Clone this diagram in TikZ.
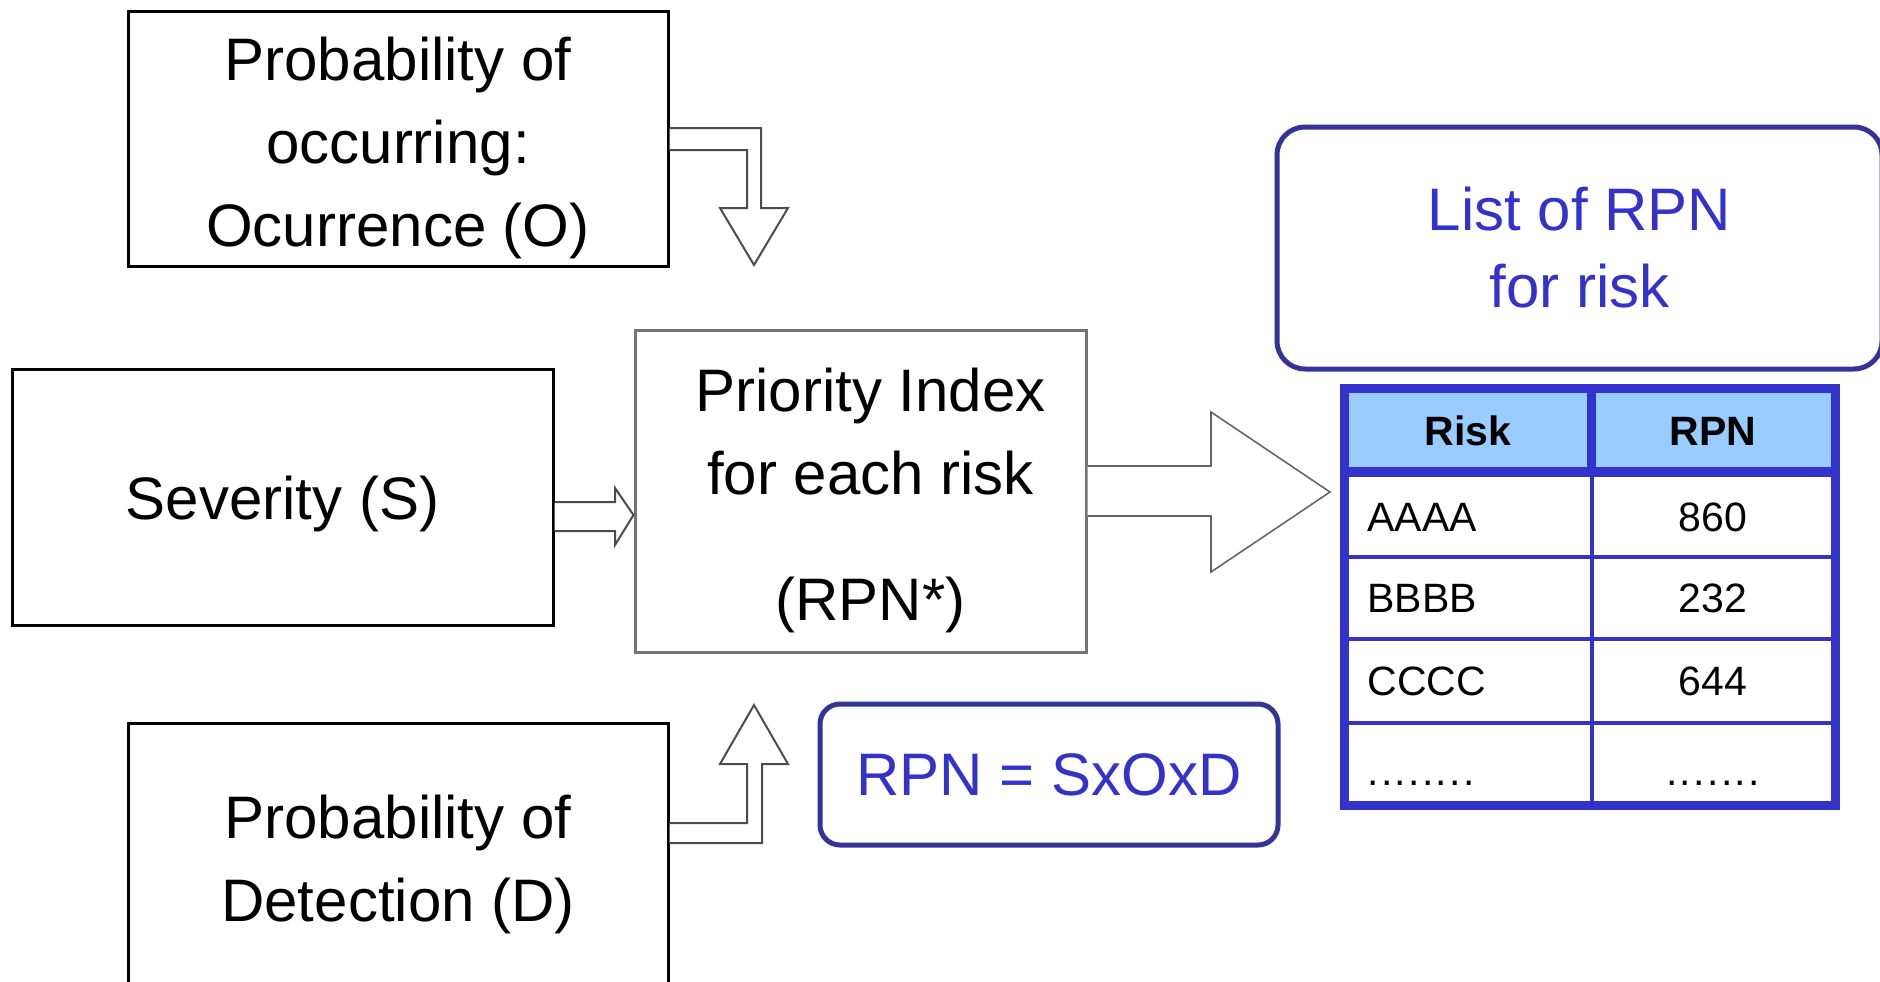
\documentclass[tikz,border=0pt]{standalone}
\usepackage{fontspec}
\setmainfont{Liberation Sans}
\usepackage{xcolor}
\definecolor{rpnazul}{RGB}{51,51,204}
\definecolor{rpnmarino}{RGB}{51,51,153}
\definecolor{rpncabecera}{RGB}{153,204,255}

\begin{document}
\begin{tikzpicture}[x=0.5pt, y=-0.5pt,
  caja/.style={draw, line width=1.5pt, inner sep=0pt},
  cajagris/.style={caja, draw=black!55},
  texto/.style={inner sep=0pt, align=center, font=\fontsize{30}{41.5}\selectfont},
  cajaredonda/.style={draw=rpnmarino, line width=2.5pt, rounded corners=14pt, inner sep=0pt, align=center, text=rpnazul, font=\fontsize{30}{38.5}\selectfont},
  flecha/.style={draw=black!70, line width=1pt, fill=white, line join=miter},
  celda/.style={inner sep=0pt, font=\fontsize{20.5}{24}\selectfont},
]
\useasboundingbox (0,0) rectangle (1880,981);
\clip (0,0) rectangle (1880,981);

% Cajas de entrada
\node[caja, minimum width=270pt, minimum height=127.5pt] (occ) at (398,138.5) {};
\node[texto, yshift=-4.5pt] (occtexto) at (occ.center) {Probability of\\occurring:\\Ocurrence (O)};
\node[caja, minimum width=270.5pt, minimum height=128pt] (sev) at (282.5,497) {};
\node[texto, yshift=-3.5pt] (sevtexto) at (sev.center) {Severity (S)};
\node[caja, minimum width=270pt, minimum height=134pt] (det) at (398,857) {};
\node[texto, yshift=-3.5pt] (dettexto) at (det.center) {Probability of\\Detection (D)};

% Caja central
\node[cajagris, minimum width=225.5pt, minimum height=161pt] (prio) at (860.5,491) {};
\node[texto, xshift=5pt, yshift=-4.5pt] (priotexto) at (prio.center) {Priority Index\\for each risk\\[21.5pt](RPN*)};

% Cajas redondeadas
\node[cajaredonda, minimum width=302.5pt, minimum height=121pt] (lista) at (1579.5,248) {List of RPN\\for risk};
\node[cajaredonda, rounded corners=10pt, minimum width=229pt, minimum height=70.5pt] (formula) at (1049,774.5) {RPN = SxOxD};

% Flechas de bloque
\draw[flecha] (occ.east |- 0,128) -- (761,128) -- (761,208) -- (788,208) -- (754,265) -- (720,208) -- (747,208) -- (747,150) -- (occ.east |- 0,150);
\draw[flecha] (sev.east |- 0,502) -- (615,502) -- (615,488) -- (prio.west |- 0,515) -- (615,545) -- (615,531) -- (sev.east |- 0,531);
\draw[flecha] (det.east |- 0,823) -- (747,823) -- (747,764) -- (720,764) -- (754,705) -- (788,764) -- (762,764) -- (762,843) -- (det.east |- 0,843);
\draw[flecha, draw=black!60, line width=0.8pt] (prio.east |- 0,466) -- (1211,466) -- (1211,412) -- (1330,492) -- (1211,572) -- (1211,516) -- (prio.east |- 0,516);

% Tabla de resultados
\fill[rpncabecera] (1349,393) rectangle (1831,467);
\draw[rpnazul, line width=4.5pt] (1344.5,388.5) rectangle (1835.5,805.5);
\draw[rpnazul, line width=5pt] (1349,472) -- (1831,472);
\draw[rpnazul, line width=4.5pt] (1591.5,393) -- (1591.5,472);
\draw[rpnazul, line width=2pt] (1591.5,472) -- (1591.5,801);
\foreach \y in {557,639,723}
  \draw[rpnazul, line width=2pt] (1349,\y) -- (1831,\y);

\node[celda, font=\fontsize{20.5}{24}\selectfont\bfseries] (hriesgo) at (1468,431) {Risk};
\node[celda, font=\fontsize{20.5}{24}\selectfont\bfseries] (hrpn) at (1713,431) {RPN};
\foreach \nombre/\valor/\y in {AAAA/860/517, BBBB/232/598, CCCC/644/681} {
  \node[celda, anchor=west] (r\nombre) at (1367,\y) {\nombre};
  \node[celda] (v\nombre) at (1713,\y) {\valor};
}
\node[celda, anchor=base west] (rpuntos) at (1367,785) {\addfontfeature{LetterSpace=5.6}........};
\node[celda, anchor=base] (vpuntos) at (1713,785) {\addfontfeature{LetterSpace=5.6}.......};

\end{tikzpicture}
\end{document}
